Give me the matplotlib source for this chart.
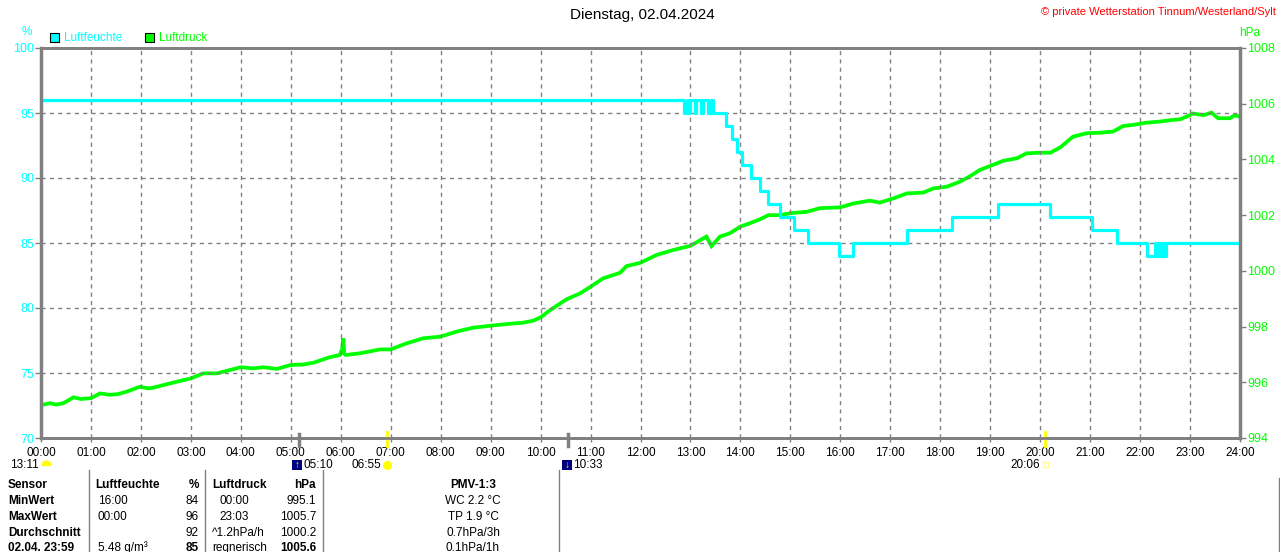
import matplotlib
matplotlib.use("Agg")
import matplotlib.pyplot as plt
from matplotlib.patches import Rectangle
from matplotlib.lines import Line2D

plt.rcParams['font.family'] = ['Liberation Sans', 'DejaVu Sans']

# --- data ---------------------------------------------------------------
# relative humidity (%), step changes: time in hours, value from that time on
hum_t = [0.00, 12.88, 12.93, 12.95, 12.99, 13.09, 13.12, 13.22, 13.26, 13.36,
         13.42, 13.46, 13.72, 13.83, 13.94, 14.04,
         14.21, 14.39, 14.56, 14.79, 15.08, 15.36, 15.98, 16.26, 17.33, 18.23,
         19.16, 20.20, 21.03, 21.53, 22.13, 22.30, 22.33, 22.37, 22.40, 22.44,
         22.47, 22.52, 24.00]
hum_v = [96, 95, 96, 95, 96, 95, 96, 95, 96, 95,
         96, 95, 94, 93, 92, 91,
         90, 89, 88, 87, 86, 85, 84, 85, 86, 87,
         88, 87, 86, 85, 84, 85, 84, 85, 84, 85,
         84, 85, 85]

# air pressure (hPa)
pres_t = [0.00, 0.18, 0.30, 0.45, 0.65, 0.80, 1.00, 1.18, 1.38, 1.55, 1.71,
          1.98, 2.15, 2.28, 2.45, 2.72, 3.00, 3.25, 3.52, 3.78, 4.00, 4.25,
          4.45, 4.72, 5.00, 5.25, 5.45, 5.78, 5.98, 6.03, 6.05, 6.07, 6.10,
          6.38, 6.79, 7.00, 7.32, 7.65, 8.00, 8.32, 8.65, 9.00, 9.32, 9.65,
          9.85, 10.00, 10.19, 10.52, 10.79, 11.00, 11.25, 11.59, 11.72, 12.00,
          12.32, 12.66, 13.00, 13.32, 13.42, 13.59, 13.79, 14.00, 14.19, 14.39,
          14.56, 14.79, 15.00, 15.33, 15.59, 16.00, 16.26, 16.59, 16.79, 17.06,
          17.33, 17.66, 17.86, 18.13, 18.39, 18.60, 18.79, 18.99, 19.26, 19.53,
          19.73, 20.00, 20.20, 20.40, 20.66, 20.93, 21.20, 21.46, 21.66, 21.86,
          22.13, 22.40, 22.66, 22.80, 23.00, 23.05, 23.27, 23.43, 23.56, 23.80,
          23.90, 24.00]
pres_v = [995.18, 995.25, 995.20, 995.25, 995.46, 995.40, 995.43, 995.60, 995.55, 995.58, 995.66,
          995.84, 995.78, 995.82, 995.90, 996.02, 996.14, 996.32, 996.32, 996.44, 996.54, 996.50,
          996.54, 996.48, 996.62, 996.64, 996.70, 996.90, 996.98, 997.20, 997.58, 997.02, 996.98,
          997.04, 997.18, 997.18, 997.40, 997.58, 997.64, 997.82, 997.96, 998.03, 998.09, 998.14,
          998.21, 998.33, 998.59, 998.98, 999.19, 999.43, 999.73, 999.93, 1000.17, 1000.29,
          1000.57, 1000.75, 1000.90, 1001.23, 1000.89, 1001.23, 1001.35, 1001.59, 1001.71, 1001.85,
          1002.00, 1002.00, 1002.07, 1002.12, 1002.25, 1002.28, 1002.42, 1002.52, 1002.45, 1002.60,
          1002.78, 1002.81, 1002.96, 1003.02, 1003.20, 1003.40, 1003.62, 1003.76, 1003.95, 1004.04,
          1004.22, 1004.24, 1004.24, 1004.43, 1004.82, 1004.94, 1004.96, 1005.00, 1005.20, 1005.24,
          1005.32, 1005.36, 1005.42, 1005.44, 1005.59, 1005.65, 1005.59, 1005.68, 1005.48, 1005.48,
          1005.59, 1005.53]

hours = list(range(0, 25))
hour_labels = ["%02d:00" % h for h in hours]
hum_ticks = [70, 75, 80, 85, 90, 95, 100]
pres_ticks = [994, 996, 998, 1000, 1002, 1004, 1006, 1008]

# astro events on the time axis (hours)
gray_marks = [5 + 10 / 60, 10 + 33 / 60]
yellow_marks = [6 + 55 / 60, 20 + 6 / 60]

table_rows = [
    ["Sensor", "Luftfeuchte", "%", "Luftdruck", "hPa", "PMV-1:3"],
    ["MinWert", "16:00", "84", "00:00", "995.1", "WC 2.2 °C"],
    ["MaxWert", "00:00", "96", "23:03", "1005.7", "TP 1.9 °C"],
    ["Durchschnitt", "", "92", "^1.2hPa/h", "1000.2", "0.7hPa/3h"],
    ["02.04. 23:59", "5.48 g/m³", "85", "regnerisch", "1005.6", "0.1hPa/1h"],
]

CYAN = "#00ffff"
GREEN = "#00ff00"
GRAY = "#808080"

W, H = 1280, 552
fig = plt.figure(figsize=(W / 100, H / 100), dpi=100)


def px(x, y):
    return x / W, 1 - y / H


l, t = px(41, 48)
r, b = px(1240, 438)
ax = fig.add_axes([l, b, r - l, t - b])
ax2 = ax.twinx()
ax.set_zorder(ax2.get_zorder() + 1)
ax.patch.set_visible(False)

ax.set_xlim(0, 24)
ax.set_ylim(70, 100)
ax2.set_ylim(994, 1008)

ax2.plot(pres_t, pres_v, color=GREEN, lw=2.7, solid_joinstyle="miter")
ax.plot(hum_t, hum_v, color=CYAN, lw=2.3, drawstyle="steps-post")

# grid
for h in hours[1:-1]:
    ax.axvline(h, color=GRAY, lw=1.0, ls=(0, (3, 3)), zorder=0)
for v in hum_ticks[1:-1]:
    ax.axhline(v, color=GRAY, lw=1.0, ls=(0, (3, 3)), zorder=0)

for a in (ax, ax2):
    for s in a.spines.values():
        s.set_color(GRAY)
        s.set_linewidth(2)
ax.spines["left"].set_linewidth(2.5)
ax2.spines["right"].set_linewidth(2.5)

ax.set_xticks(hours)
ax.set_xticklabels(hour_labels, fontsize=8.5)
ax.set_yticks(hum_ticks)
ax.set_yticklabels([str(v) for v in hum_ticks], fontsize=9, color=CYAN)
ax2.set_yticks(pres_ticks)
ax2.set_yticklabels([str(v) for v in pres_ticks], fontsize=9, color=GREEN)
ax.tick_params(axis="x", length=3, width=1, color=GRAY, pad=3.5)
ax.tick_params(axis="y", length=4, width=1, color=GRAY, pad=1)
ax2.tick_params(axis="y", length=4, width=1, color=GRAY, pad=1)

# astro marks on the time axis
tr = ax.get_xaxis_transform()
for m in gray_marks:
    ax.add_line(Line2D([m, m], [0.011, -0.02], transform=tr, color=GRAY, lw=2.5, clip_on=False))
for m in yellow_marks:
    ax.add_line(Line2D([m, m], [0.016, -0.02], transform=tr, color="#ffff00", lw=2, clip_on=False))

# markers and times below the axis
ym = -0.068
fs_ev = 8.5
fig.text(*px(10, 465), "13:11", fontsize=fs_ev, va="center")
ax.scatter([0.1], [ym], transform=tr, marker=matplotlib.markers.MarkerStyle("o", fillstyle="top"),
           s=40, color="#ffff00", clip_on=False, zorder=5)
fig.text(*px(303, 465), "05:10", fontsize=fs_ev, va="center")
fig.add_artist(Rectangle(px(292, 470), 10 / W, 10 / H, facecolor="#000080", edgecolor="none"))
fig.text(*px(297, 465), "↑", fontsize=7, color="#ffff00", ha="center", va="center", weight="bold")
fig.text(*px(381, 465), "06:55", fontsize=fs_ev, va="center", ha="right")
ax.scatter([yellow_marks[0]], [ym], transform=tr, marker="o", s=30, color="#ffff00",
           clip_on=False, zorder=5)
fig.add_artist(Rectangle(px(562, 470), 10 / W, 10 / H, facecolor="#000080", edgecolor="none"))
fig.text(*px(567, 465), "↓", fontsize=7, color="#ffff00", ha="center", va="center", weight="bold")
fig.text(*px(573, 465), "10:33", fontsize=fs_ev, va="center")
fig.text(*px(1040, 465), "20:06", fontsize=fs_ev, va="center", ha="right")
ax.scatter([yellow_marks[1]], [ym], transform=tr, marker="s", s=14, facecolor="none",
           edgecolor="#ffff88", lw=1, clip_on=False, zorder=5)

# header texts
fig.text(*px(642, 15), "Dienstag, 02.04.2024", fontsize=11, ha="center", va="center")
fig.text(*px(1276, 12), "© private Wetterstation Tinnum/Westerland/Sylt", fontsize=8,
         ha="right", va="center", color="red")
fig.text(*px(27, 32), "%", fontsize=8.5, ha="center", va="center", color=CYAN)
fig.text(*px(1250, 33), "hPa", fontsize=8.5, ha="center", va="center", color=GREEN)

fig.add_artist(Rectangle(px(50, 42), 9 / W, 9 / H, facecolor=CYAN, edgecolor="black", lw=0.8))
fig.text(*px(64, 38), "Luftfeuchte", fontsize=8.5, va="center", color=CYAN)
fig.add_artist(Rectangle(px(145, 42), 9 / W, 9 / H, facecolor=GREEN, edgecolor="black", lw=0.8))
fig.text(*px(159, 38), "Luftdruck", fontsize=8.5, va="center", color=GREEN)

# table below the chart
for xv, y0 in [(89, 470), (205, 470), (323, 470), (559, 470), (1279, 478)]:
    fig.add_artist(Line2D([xv / W, xv / W], [1 - y0 / H, 0], color=GRAY, lw=1))

row_y = [485, 501, 517, 533, 548]
for i, row in enumerate(table_rows):
    y = row_y[i]
    bold_all = i == 0
    fig.text(*px(8, y), row[0], fontsize=8.5, va="center", weight="bold")
    fig.text(*px(95 if i == 0 else 98, y), row[1], fontsize=8.5, va="center",
             weight="bold" if bold_all else "normal")
    fig.text(*px(199, y), row[2], fontsize=8.5, va="center", ha="right",
             weight="bold" if (bold_all or i == 4) else "normal")
    fig.text(*px(212 if i in (0, 3, 4) else 219, y), row[3], fontsize=8.5, va="center",
             weight="bold" if bold_all else "normal")
    fig.text(*px(316, y), row[4], fontsize=8.5, va="center", ha="right",
             weight="bold" if (bold_all or i == 4) else "normal")
    fig.text(*px(473, y), row[5], fontsize=8.5, va="center", ha="center",
             weight="bold" if bold_all else "normal")

fig.savefig("out.png", dpi=100)
